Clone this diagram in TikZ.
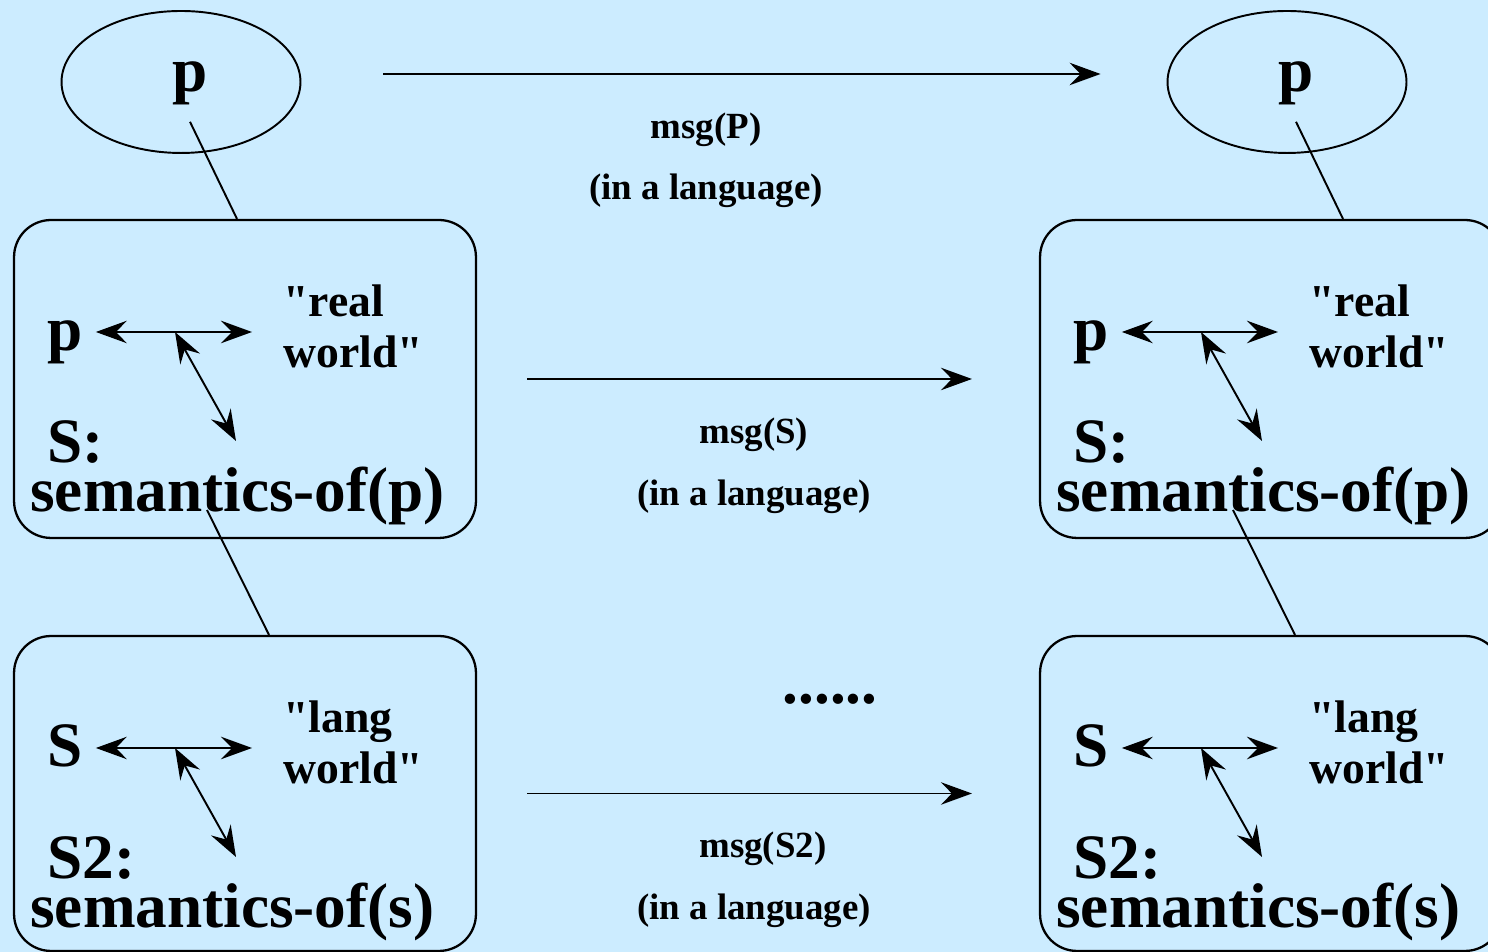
\documentclass[tikz,border=0pt]{standalone}
\usepackage{fontspec}
\setmainfont{Liberation Serif}
\usetikzlibrary{positioning}
\usetikzlibrary{arrows.meta}
\usetikzlibrary{shapes.geometric}

\definecolor{skyback}{RGB}{204,236,255}

\tikzset{
  big/.style={font=\bfseries\fontsize{36}{40}\selectfont, inner sep=0pt},
  mid/.style={font=\bfseries\fontsize{26}{29.5}\selectfont, inner sep=0pt, align=left},
  small/.style={font=\bfseries\fontsize{21}{24}\selectfont, inner sep=0pt},
  frame/.style={draw, line width=1.3pt, rounded corners=0.74cm, minimum width=9.24cm, inner sep=0pt},
  blob/.style={draw, ellipse, line width=1.1pt, minimum width=4.78cm, minimum height=2.84cm, inner sep=0pt},
  link/.style={line width=1.1pt},
  msgarrow/.style={line width=1.1pt, -{Stealth[length=0.62cm, width=0.45cm, inset=0.22cm]}},
  pairarrow/.style={line width=1.1pt, {Stealth[length=0.62cm, width=0.45cm, inset=0.22cm]}-{Stealth[length=0.62cm, width=0.45cm, inset=0.22cm]}}
}

\begin{document}
\begin{tikzpicture}[x=0.02cm, y=0.02cm]
  \useasboundingbox (0,0) rectangle (1488,952);
  \fill[skyback] (0,0) rectangle (1488,952);

  % sender on the left, receiver on the right
  \foreach \side/\ex/\dx in {L/0/0, R/1106/1026} {
    \begin{scope}[shift={(\ex,0)}]
      \node[blob] (ell\side) at (181,870) {};
      \node[big, anchor=base] (top\side) at (190,860) {p};
    \end{scope}
    % two levels: the thing and its semantics
    \foreach \row/\dy/\by/\hgt/\lhs/\rwa/\lab/\sem in {up/0/573/6.36/p/real/S:/semantics-of(p), lo/-416/574.5/6.3/S/lang/S2:/semantics-of(s)} {
      \begin{scope}[shift={(\dx,\dy)}]
        \node[frame, minimum height=\hgt cm] (box\row\side) at (245,\by) {};
        \node[big, anchor=base west] (lhs\row\side) at (47,601) {\lhs};
        \node[mid, anchor=north west] (rw\row\side) at (283,668) {\textquotedbl\rwa\\world\textquotedbl};
        \node[big, anchor=base west] (lab\row\side) at (47,489) {\lab};
        \node[big, anchor=base west] (sem\row\side) at (30,440) {\sem};
        \coordinate (hub\row\side) at (175,620);
        \coordinate (aim\row\side) at (236,511);
        \draw[pairarrow] ([xshift=0.26cm]lhs\row\side.east |- hub\row\side) -- ([xshift=-0.62cm]rw\row\side.west |- hub\row\side);
        \draw[pairarrow] (hub\row\side) -- (aim\row\side);
      \end{scope}
    }
    \draw[link] (top\side.south) ++(0,-16) -- ([xshift=0.94cm]top\side.south |- boxup\side.north);
    \draw[link] ([shift={(-38,-131)}]boxup\side.center) -- ([xshift=0.48cm]boxlo\side.north);
  }

  % messages sent across
  \draw[msgarrow] ([shift={(82,8)}]ellL.east) -- ([shift={(-66,8)}]ellR.west)
    node[small, pos=0.45, yshift=-1.12cm] (msgtop) {msg(P)}
    node[small, pos=0.45, yshift=-2.34cm] (langtop) {(in a language)};
  \draw[msgarrow] ([xshift=1cm]boxupL.east) -- ([xshift=-1.34cm]boxupR.west)
    node[small, pos=0.51, yshift=-1.12cm] (msgmid) {msg(S)}
    node[small, pos=0.51, yshift=-2.36cm] (langmid) {(in a language)};
  \draw[msgarrow] ([xshift=1cm]boxloL.east) -- ([xshift=-1.34cm]boxloR.west)
    node[small, pos=0.53, yshift=-1.1cm] (msglow) {msg(S2)}
    node[small, pos=0.51, yshift=-2.34cm] (langlow) {(in a language)};
  \node[big, anchor=base] (dots) at (830,248) {......};
\end{tikzpicture}
\end{document}
